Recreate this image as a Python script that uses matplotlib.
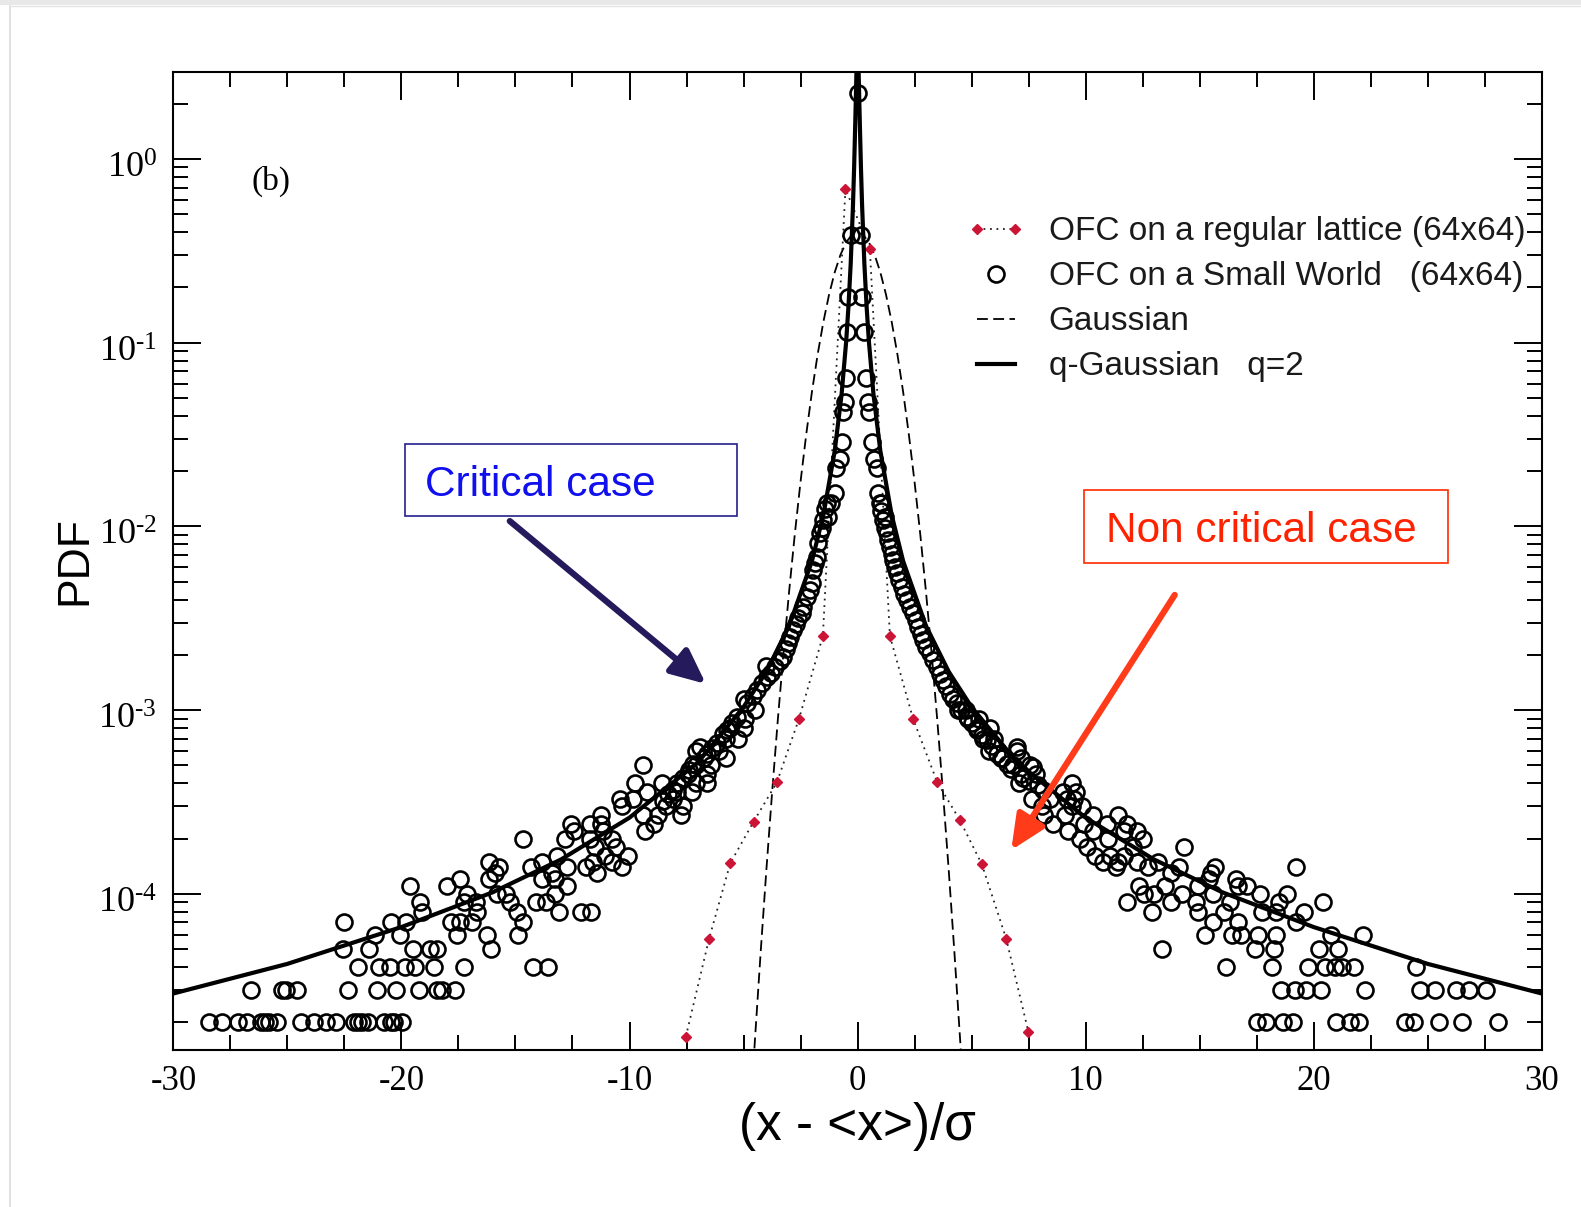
import numpy as np
import matplotlib
matplotlib.use('Agg')
import matplotlib.pyplot as plt
import matplotlib.transforms as mtransforms
from matplotlib.patches import Rectangle
from matplotlib.lines import Line2D
from matplotlib.legend_handler import HandlerLine2D
from matplotlib.ticker import MultipleLocator, LogLocator, FuncFormatter, NullFormatter

plt.rcParams['axes.unicode_minus'] = False
plt.rcParams['font.family'] = ['Liberation Sans', 'DejaVu Sans']

# OFC regular lattice (red diamonds, dotted)
lattice_x = [-7.53, -6.51, -5.58, -4.56, -3.54, -2.57, -1.52, -0.53,
             0.54, 1.42, 2.44, 3.50, 4.48, 5.45, 6.52, 7.49]
lattice_y = [1.67e-5, 5.7e-5, 1.47e-4, 2.47e-4, 4.04e-4, 8.95e-4, 2.53e-3, 0.69,
             0.324, 2.53e-3, 8.95e-4, 4.04e-4, 2.53e-4, 1.45e-4, 5.7e-5, 1.78e-5]

# Gaussian (dashed)
gauss_x = [-4.7, -4.5, -4.25, -4.0, -3.75, -3.5, -3.25, -3.0, -2.75, -2.5, -2.25, -2.0,
           -1.75, -1.5, -1.25, -1.0, -0.75, -0.5, -0.25, 0.0, 0.25, 0.5, 0.75, 1.0,
           1.25, 1.5, 1.75, 2.0, 2.25, 2.5, 2.75, 3.0, 3.25, 3.5, 3.75, 4.0, 4.25,
           4.5, 4.7]
gauss_y = [6.4e-6, 1.6e-5, 4.77e-5, 1.34e-4, 3.52e-4, 8.73e-4, 2.03e-3, 4.43e-3,
           9.1e-3, 1.75e-2, 3.17e-2, 5.4e-2, 8.63e-2, 0.1295, 0.1826, 0.242, 0.301,
           0.352, 0.387, 0.399, 0.387, 0.352, 0.301, 0.242, 0.1826, 0.1295, 8.63e-2,
           5.4e-2, 3.17e-2, 1.75e-2, 9.1e-3, 4.43e-3, 2.03e-3, 8.73e-4, 3.52e-4,
           1.34e-4, 4.77e-5, 1.6e-5, 6.4e-6]

# q-Gaussian q=2 (solid)
qg_x = [-30, -25, -20, -16, -13, -10, -7, -5, -4, -3, -2, -1.5, -1, -0.7, -0.5,
        -0.4, -0.3, -0.2, -0.15, -0.1, -0.05, 0, 0.05, 0.1, 0.15, 0.2, 0.3, 0.4,
        0.5, 0.7, 1, 1.5, 2, 3, 4, 5, 7, 10, 13, 16, 20, 25, 30]
qg_y = [2.87e-5, 4.16e-5, 6.6e-5, 1.02e-4, 1.54e-4, 2.6e-4, 5.2e-4, 1.04e-3,
        1.62e-3, 2.88e-3, 6.48e-3, 1.15e-2, 2.58e-2, 5.23e-2, 0.101, 0.156, 0.269,
        0.559, 0.896, 1.575, 2.89, 4.0, 2.89, 1.575, 0.896, 0.559, 0.269, 0.156,
        0.101, 5.23e-2, 2.58e-2, 1.15e-2, 6.48e-3, 2.88e-3, 1.62e-3, 1.04e-3,
        5.2e-4, 2.6e-4, 1.54e-4, 1.02e-4, 6.6e-5, 4.16e-5, 2.87e-5]

# OFC small world: core points near the peak
core_x = [0.0, -0.3, 0.15, -0.4, 0.2, -0.45, 0.28, -0.5, 0.35, -0.55, 0.45, -0.62,
          0.52, -0.7, 0.62, -0.78, 0.72, -0.95, 0.85, -1.0, 0.9, -1.15, 1.05,
          -1.3, 1.2]
core_y = [2.28, 0.386, 0.386, 0.177, 0.177, 0.115, 0.115, 0.0643, 0.0643, 0.0477,
          0.0477, 0.0419, 0.0419, 0.0289, 0.0289, 0.0233, 0.0233, 0.0208, 0.0208,
          0.0152, 0.0152, 0.0135, 0.0135, 0.0113, 0.0113]

# small world: inner flanks (left)
flank_left_x = [-1.354, -1.42, -1.5, -1.58, -1.646, -1.719, -1.792, -1.86, -1.938,
                -2.011, -2.1, -2.23, -2.376, -2.45, -2.595, -2.7, -2.814, -2.95,
                -3.033, -3.15, -3.252, -3.4, -3.618, -3.8, -3.983, -4.0, -4.2,
                -4.421, -4.6, -4.86, -5.0, -5.298, -5.5, -5.737, -5.9, -6.175,
                -6.4, -6.614, -6.9, -7.2, -7.4, -7.638, -7.9, -8.077, -8.3, -8.515]
flank_left_y = [1.336e-2, 1.25e-2, 1.083e-2, 9.8e-3, 9.17e-3, 8.09e-3, 6.84e-3,
                6.3e-3, 5.79e-3, 4.9e-3, 4.5e-3, 4.14e-3, 3.65e-3, 3.4e-3, 3.16e-3,
                2.95e-3, 2.73e-3, 2.5e-3, 2.31e-3, 2.15e-3, 1.95e-3, 1.85e-3,
                1.72e-3, 1.6e-3, 1.52e-3, 1.75e-3, 1.4e-3, 1.29e-3, 1.2e-3, 1.09e-3,
                1.15e-3, 9.2e-4, 8.5e-4, 7.8e-4, 7.4e-4, 6.6e-4, 6.2e-4, 5.8e-4,
                6.3e-4, 5.1e-4, 4.7e-4, 4.3e-4, 4.0e-4, 3.7e-4, 3.5e-4, 3.2e-4]

# small world: inner flanks (right)
flank_right_x = [0.984, 1.05, 1.131, 1.2, 1.277, 1.35, 1.423, 1.5, 1.569, 1.64,
                 1.715, 1.82, 1.935, 2.05, 2.154, 2.3, 2.446, 2.55, 2.665, 2.78,
                 2.885, 3.0, 3.177, 3.3, 3.47, 3.6, 3.761, 3.9, 4.054, 4.2, 4.346,
                 4.55, 4.785, 5.0, 5.223, 5.45, 5.662, 5.9, 6.1, 6.3, 6.539, 6.75,
                 6.977, 7.27, 7.5, 7.708, 7.9, 8.147]
flank_right_y = [1.336e-2, 1.22e-2, 1.083e-2, 9.8e-3, 9.17e-3, 8.4e-3, 7.76e-3,
                 7.1e-3, 6.56e-3, 6.0e-3, 5.55e-3, 5.1e-3, 4.7e-3, 4.3e-3, 3.97e-3,
                 3.65e-3, 3.36e-3, 3.1e-3, 2.84e-3, 2.6e-3, 2.41e-3, 2.2e-3,
                 2.04e-3, 1.88e-3, 1.72e-3, 1.58e-3, 1.46e-3, 1.35e-3, 1.23e-3,
                 1.15e-3, 1.09e-3, 1.0e-3, 9.2e-4, 8.5e-4, 7.8e-4, 7.3e-4, 6.9e-4,
                 6.4e-4, 5.8e-4, 5.5e-4, 5.1e-4, 4.8e-4, 6.3e-4, 4.3e-4, 4.1e-4,
                 4.9e-4, 3.9e-4, 3.7e-4]

# small world tails: PDF level -> x positions
tail_levels = [2e-5, 3e-5, 4e-5, 5e-5, 6e-5, 7e-5, 8e-5, 9e-5, 1.0e-4, 1.1e-4,
               1.2e-4, 1.3e-4, 1.4e-4, 1.5e-4, 1.6e-4, 1.8e-4, 2.0e-4, 2.2e-4,
               2.4e-4, 2.7e-4, 3.0e-4, 3.3e-4, 3.6e-4, 4.0e-4, 4.5e-4, 5.0e-4,
               5.5e-4, 6.0e-4, 7.0e-4, 8.0e-4, 9.0e-4, 1.0e-3]
tail_left_x = [
    [-28.45, -27.87, -27.17, -26.78, -26.17, -26.0, -25.83, -25.45, -24.42, -23.83,
     -23.33, -22.88, -22.08, -21.92, -21.75, -21.45, -20.78, -20.45, -20.33, -19.98],
    [-26.58, -25.25, -25.08, -24.58, -22.33, -21.08, -20.25, -19.22, -18.42, -18.22, -17.67],
    [-21.92, -21.0, -20.5, -19.83, -19.42, -18.58, -17.25, -14.25, -13.58],
    [-22.58, -21.42, -19.5, -18.75, -18.42, -16.08],
    [-21.17, -20.08, -17.58, -16.25, -14.9],
    [-22.5, -20.45, -19.78, -17.83, -17.42, -16.92, -14.67],
    [-19.08, -16.67, -14.95, -13.08, -12.12, -11.7],
    [-19.17, -17.25, -16.75, -15.25, -14.08, -13.67],
    [-17.13, -15.83, -15.42, -13.25],
    [-19.62, -18.0, -12.75],
    [-17.42, -16.17, -13.83, -13.25],
    [-15.92, -13.42, -11.42],
    [-15.72, -14.33, -12.75, -11.92, -10.33],
    [-16.17, -13.83, -11.58, -10.75],
    [-13.17, -11.08, -10.08],
    [-11.5, -10.58],
    [-14.67, -12.83, -11.75, -10.75],
    [-12.42, -11.17, -9.33],
    [-12.58, -11.75, -11.25, -8.92],
    [-11.25, -9.42, -8.75, -7.75],
    [-10.33, -8.42, -7.67],
    [-10.42, -9.83, -8.08],
    [-9.25, -7.92, -7.25],
    [-9.75, -8.58, -7.08, -6.58],
    [-7.42, -6.58],
    [-9.42, -7.08, -6.42],
    [-6.75, -5.75],
    [-7.08, -6.08],
    [-5.25, -5.75],
    [-5.0, -5.58],
    [-4.92],
    [-4.5],
]
tail_right_x = [
    [17.5, 17.92, 18.67, 19.08, 21.0, 21.58, 22.0, 24.0, 24.42, 25.5, 26.5, 28.08],
    [18.58, 19.17, 19.67, 20.33, 22.25, 24.67, 25.33, 26.25, 26.83, 27.58],
    [16.17, 18.17, 19.75, 20.5, 20.92, 21.25, 21.75, 24.5],
    [13.33, 17.42, 18.25, 20.25, 21.08],
    [15.25, 16.42, 16.83, 17.58, 18.33, 20.75, 22.17],
    [15.58, 16.67, 19.25],
    [12.92, 14.92, 16.08, 17.75, 18.33, 19.58],
    [11.83, 13.75, 14.83, 16.33, 18.5, 20.42],
    [12.58, 13.0, 14.25, 15.58, 17.67, 18.83],
    [12.33, 13.5, 14.92, 16.67, 17.08],
    [15.42, 16.58],
    [13.75, 15.5],
    [11.33, 12.75, 14.08, 15.67, 19.25],
    [10.75, 11.42, 12.25, 13.17],
    [10.42, 11.08, 11.67],
    [10.08, 12.08, 14.33],
    [9.75, 11.0, 12.5],
    [9.25, 10.33, 11.67, 12.25],
    [8.58, 9.92, 10.92, 11.83],
    [8.17, 9.08, 10.33, 11.42],
    [8.08, 9.42, 9.83],
    [7.67, 8.42, 9.17, 9.5],
    [9.0, 9.58],
    [7.08, 9.42],
    [7.17, 7.83],
    [6.83, 7.58],
    [6.33, 7.17],
    [5.75, 7.0],
    [5.5, 6.0],
    [5.25, 5.83],
    [4.83, 5.33],
    [4.42, 4.75],
]

# assemble small world series
sw_x, sw_y = list(core_x) + flank_left_x + flank_right_x, list(core_y) + flank_left_y + flank_right_y
for lev, xs_l, xs_r in zip(tail_levels, tail_left_x, tail_right_x):
    for xv in xs_l + xs_r:
        sw_x.append(xv)
        sw_y.append(lev)

RED = '#cc1436'

fig = plt.figure(figsize=(15.81, 12.07), dpi=100)
ax = fig.add_axes([0.1097, 0.1304, 0.8654, 0.8102])

# page frame bits
fig.patches.append(Rectangle((0, 1 - 5 / 1207), 1, 5 / 1207, transform=fig.transFigure,
                             facecolor='#e8e8e8', edgecolor='none'))
fig.lines.append(Line2D([10 / 1581, 10 / 1581], [0, 1 - 6 / 1207], transform=fig.transFigure,
                        color='#dcdcdc', lw=1.2))
fig.lines.append(Line2D([10 / 1581, 1], [1 - 6 / 1207, 1 - 6 / 1207], transform=fig.transFigure,
                        color='#e4e4e4', lw=1.0))

h_gauss, = ax.plot(gauss_x, gauss_y, color='black', lw=1.3, ls=(0, (6.0, 3.0)))
h_lat, = ax.plot(lattice_x, lattice_y, color='#222222', lw=1.3, ls=(0, (1, 2.6)),
                 marker='D', ms=5.5, mfc=RED, mec=RED)
h_qg, = ax.plot(qg_x, qg_y, color='black', lw=3.0, solid_joinstyle='round')
h_sw, = ax.plot(sw_x, sw_y, ls='none', marker='o', ms=11.5, mfc='none', mec='black', mew=1.9)

ax.set_xlim(-30, 30)
ax.set_yscale('log')
ax.set_ylim(1.42e-5, 2.99)

ax.xaxis.set_major_locator(MultipleLocator(10))
ax.xaxis.set_minor_locator(MultipleLocator(2.5))
ax.yaxis.set_major_locator(LogLocator(base=10, numticks=20))
ax.yaxis.set_minor_locator(LogLocator(base=10, subs=np.arange(2, 10), numticks=20))
ax.yaxis.set_minor_formatter(NullFormatter())
ax.yaxis.set_major_formatter(FuncFormatter(
    lambda v, p: r'$\mathregular{10^{%s}}$' % str(round(np.log10(v))).replace('-', '\u2010')))
ax.xaxis.set_major_formatter(FuncFormatter(lambda v, p: '%d' % v))

ax.tick_params(which='both', direction='in', top=True, right=True, width=1.4)
ax.tick_params(which='major', length=20)
ax.tick_params(which='minor', length=11)
ax.tick_params(axis='x', which='major', pad=11, labelsize=25)
ax.tick_params(axis='y', which='major', pad=12, labelsize=26)
for t in ax.get_xticklabels() + ax.get_yticklabels():
    t.set_fontfamily('Liberation Serif')
# y tick labels sit slightly below their ticks in the reference
ydown = mtransforms.ScaledTranslation(0, -6 / 100, fig.dpi_scale_trans)
for tk in ax.yaxis.get_major_ticks():
    tk.label1.set_transform(tk.label1.get_transform() + ydown)
for s in ax.spines.values():
    s.set_linewidth(1.5)

ax.set_xlabel('(x - <x>)/σ', fontsize=37)
ax.xaxis.set_label_coords(0.5, -0.054)
ax.xaxis.label.set_va('top')
ax.set_ylabel('PDF', fontsize=32)
ax.yaxis.set_label_coords(-0.057, 0.5)

ax.text(-25.7, 0.754, '(b)', ha='center', va='center', fontsize=24, family='Liberation Serif')

leg = ax.legend([h_lat, h_sw, h_gauss, h_qg],
                ['OFC on a regular lattice (64x64)', 'OFC on a Small World   (64x64)',
                 'Gaussian', 'q-Gaussian   q=2'],
                loc='upper left', bbox_to_anchor=(0.580, 0.852), frameon=False,
                fontsize=24, handlelength=1.75, handletextpad=0.7, labelspacing=0.42,
                borderpad=0, borderaxespad=0, numpoints=2,
                handler_map={h_sw: HandlerLine2D(numpoints=1)})
for t in leg.get_texts():
    t.set_color('#1a1a1a')

# annotations
ax.add_patch(Rectangle((-19.85, 0.01137), 14.56, 0.0282 - 0.01137, fill=False,
                       edgecolor='#22208a', lw=1.2, clip_on=False, zorder=5))
ax.text(-18.95, 0.0168, 'Critical case', color='#1010ee', fontsize=30.5, ha='left', va='center')
ax.annotate('', xy=(-6.65, 1.39e-3), xytext=(-15.25, 0.0107),
            arrowprops=dict(arrowstyle='-|>,head_length=0.7,head_width=0.32', color='#241a5c',
                            lw=4.5, mutation_scale=30, shrinkA=0, shrinkB=0))

ax.add_patch(Rectangle((9.93, 6.35e-3), 15.96, 0.01578 - 6.35e-3, fill=False,
                       edgecolor='#ff2a00', lw=1.2, clip_on=False, zorder=5))
ax.text(10.9, 0.0094, 'Non critical case', color='#ff2200', fontsize=30.5, ha='left', va='center')
ax.annotate('', xy=(6.74, 1.73e-4), xytext=(13.91, 4.24e-3),
            arrowprops=dict(arrowstyle='-|>,head_length=0.7,head_width=0.32', color='#ff3b1a',
                            lw=4.5, mutation_scale=30, shrinkA=0, shrinkB=0))

fig.savefig('out.png', dpi=100, facecolor='white')
